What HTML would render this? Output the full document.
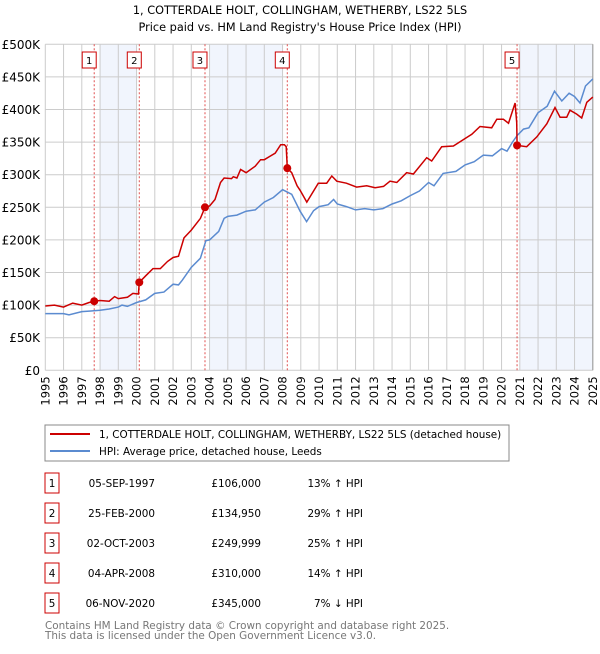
<!DOCTYPE html>
<html><head><meta charset="utf-8"><style>
body{margin:0;background:#fff;font-family:"DejaVu Sans","Liberation Sans",sans-serif;}
svg text{font-family:"DejaVu Sans","Liberation Sans",sans-serif;}
</style></head><body>
<svg id="c" width="600" height="650" xmlns="http://www.w3.org/2000/svg">
<text x="300" y="14" text-anchor="middle" font-size="11.3">1, COTTERDALE HOLT, COLLINGHAM, WETHERBY, LS22 5LS</text>
<text x="300" y="31" text-anchor="middle" font-size="11.3">Price paid vs. HM Land Registry's House Price Index (HPI)</text>
<g id="plot"></g>
<rect x="45" y="425" width="464" height="36" fill="#fff" stroke="#888"/>
<line x1="50" y1="434" x2="90" y2="434" stroke="#cc0000" stroke-width="2"/>
<text x="99" y="438" font-size="10.4">1, COTTERDALE HOLT, COLLINGHAM, WETHERBY, LS22 5LS (detached house)</text>
<line x1="50" y1="451" x2="90" y2="451" stroke="#5b8bd0" stroke-width="2"/>
<text x="99" y="455" font-size="10.4">HPI: Average price, detached house, Leeds</text>
<g id="table"></g>
<text x="45" y="629" font-size="10.4" fill="#777">Contains HM Land Registry data © Crown copyright and database right 2025.</text>
<text x="45" y="639" font-size="10.4" fill="#777">This data is licensed under the Open Government Licence v3.0.</text>
</svg>
<script>
const hpiYears=[1995,1996,1996.3,1997,1997.5,1998,1998.5,1999,1999.2,1999.5,2000,2000.5,2001,2001.5,2002,2002.3,2002.5,2003,2003.5,2003.8,2004,2004.5,2004.8,2005,2005.5,2006,2006.5,2007,2007.5,2008,2008.5,2008.96,2009.32,2009.7,2010,2010.5,2010.8,2011,2011.5,2012,2012.5,2013,2013.5,2014,2014.5,2015,2015.5,2016,2016.3,2016.8,2017.5,2018,2018.5,2019,2019.5,2020,2020.3,2020.6,2020.85,2021.2,2021.5,2022,2022.5,2022.9,2023.3,2023.7,2024,2024.3,2024.6,2025];
const hpiValues=[87,87,85,90,91,92,94,97,100,98,104,108,118,120,132,131,138,158,172,199,200,213,233,236,238,244,246,258,265,277,270,244,228,245,251,254,262,255,251,246,248,246,248,255,260,268,275,288,283,302,305,315,320,330,329,340,336,350,360,370,372,395,405,428,413,425,420,410,436,447];
const propYears=[1995,1995.5,1996,1996.5,1997,1997.4,1997.68,1998,1998.5,1998.8,1999,1999.5,1999.8,2000.1,2000.15,2000.5,2000.9,2001.3,2001.7,2002,2002.3,2002.6,2003,2003.5,2003.75,2004,2004.3,2004.6,2004.8,2005.2,2005.3,2005.5,2005.7,2006,2006.5,2006.8,2007,2007.3,2007.6,2007.9,2008.1,2008.2,2008.26,2008.5,2008.8,2008.96,2009.33,2009.96,2010.42,2010.7,2010.97,2011.5,2012.06,2012.61,2013.07,2013.53,2013.89,2014.26,2014.8,2015.17,2015.9,2016.17,2016.72,2017.36,2018.09,2018.37,2018.82,2019.46,2019.74,2020.1,2020.38,2020.74,2020.83,2020.85,2021.38,2021.93,2022.48,2022.93,2023.21,2023.57,2023.75,2024.12,2024.39,2024.67,2025];
const propValues=[98.6,100,97,103,100,104,106,107,106,113,110,112,118,117,135,145,156,156,167,173,175,203,215,233,250,252,262,288,295,294,297,295,308,303,313,323,323,328,333,346,346,343,310,303,283,276,258,287,287,298,290,287,281,283,280,282,290,288,303,301,326,321,343,344,357,362,374,372,385,385,379,410,380,345,343,358,378,403,388,388,399,393,387,411,419];
const saleYears=[1997.68,2000.15,2003.75,2008.26,2020.85];
const saleValues=[106,134.95,250,310,345];
const saleLabels=["1","2","3","4","5"];
const saleDates=["05-SEP-1997","25-FEB-2000","02-OCT-2003","04-APR-2008","06-NOV-2020"];
const salePrices=["£106,000","£134,950","£249,999","£310,000","£345,000"];
const saleHpi=["13% ↑ HPI","29% ↑ HPI","25% ↑ HPI","14% ↑ HPI","7% ↓ HPI"];
const shadeStarts=[1998,2004,2021];
const shadeEnds=[2000,2008,2025];
const yTicks=[0,50,100,150,200,250,300,350,400,450,500];
const yTickLabels=["£0","£50K","£100K","£150K","£200K","£250K","£300K","£350K","£400K","£450K","£500K"];

const NS="http://www.w3.org/2000/svg";
const X0=45.3,X1=592.8,Y0=370.3,Y1=44.3;
const xs=y=>X0+(y-1995)/30*(X1-X0);
const ys=v=>Y0-v/500*(Y0-Y1);
const plot=document.getElementById('plot');
function mk(tag,attrs,parent){const e=document.createElementNS(NS,tag);for(const k in attrs)e.setAttribute(k,attrs[k]);(parent||plot).appendChild(e);return e;}
for(let i=0;i<shadeStarts.length;i++){
 const r=mk('rect',{x:xs(shadeStarts[i]),y:Y1,width:xs(shadeEnds[i])-xs(shadeStarts[i]),height:Y0-Y1,fill:'#eef3fc',opacity:0.8});
 
 
}
for(let yr=1995;yr<=2025;yr++){
 const l=mk('line',{x1:xs(yr),x2:xs(yr),y1:Y1,y2:Y0,stroke:'#ccc','stroke-width':1});
 
 
 const t=mk('text',{x:0,y:0,'font-size':11.5,'text-anchor':'end',transform:`translate(${xs(yr)+4},${Y0+6}) rotate(-90)`});
 t.textContent=yr;
 
 
}
yTicks.forEach((v,i)=>{
 const l=mk('line',{x1:X0,x2:X1,y1:ys(v),y2:ys(v),stroke:'#ccc','stroke-width':1});
 
 
 const t=mk('text',{x:40,y:ys(v)+4.5,'font-size':12,'text-anchor':'end'});
 t.textContent=yTickLabels[i];
 
 
});
const ax=mk('line',{x1:X1,x2:X1,y1:Y1,y2:Y0,stroke:'#999'});


saleYears.forEach((yr,i)=>{
 const l=mk('line',{x1:xs(yr),x2:xs(yr),y1:Y1,y2:Y0,stroke:'#e05050','stroke-width':1,'stroke-dasharray':'2,2'});
 
 
});
function pts(xa,va){return xa.map((y,i)=>xs(y).toFixed(1)+','+ys(va[i]).toFixed(1)).join(' ');}
const hp=mk('polyline',{points:pts(hpiYears,hpiValues),fill:'none',stroke:'#5b8bd0','stroke-width':1.5});


const pp=mk('polyline',{points:pts(propYears,propValues),fill:'none',stroke:'#cc0000','stroke-width':1.5});


saleYears.forEach((yr,i)=>{
 const c=mk('circle',{cx:xs(yr),cy:ys(saleValues[i]),r:4,fill:'#cc0000'});
 
 
 const bx=xs(yr)-4-8;
 const r=mk('rect',{x:bx,y:52,width:14,height:16,fill:'#fff',stroke:'#cc0000','stroke-width':1});
 
 
 const t=mk('text',{x:bx+7,y:64,'font-size':10,'text-anchor':'middle'});
 t.textContent=saleLabels[i];
 
 
});
const tb=document.getElementById('table');
saleLabels.forEach((lab,i)=>{
 const cy=483+i*30;
 const r=mk('rect',{x:45,y:cy-10,width:14,height:20,fill:'#fff',stroke:'#cc0000'},tb);
 
 
 const t0=mk('text',{x:52,y:cy+4,'font-size':10.4,'text-anchor':'middle'},tb);t0.textContent=lab;
 
 
 const t1=mk('text',{x:155,y:cy+4,'font-size':10.4,'text-anchor':'end'},tb);t1.textContent=saleDates[i];
 
 
 const t2=mk('text',{x:261,y:cy+4,'font-size':10.4,'text-anchor':'end'},tb);t2.textContent=salePrices[i];
 
 
 const t3=mk('text',{x:363,y:cy+4,'font-size':10.4,'text-anchor':'end'},tb);t3.textContent=saleHpi[i];
 
 
});
</script>
</body></html>
